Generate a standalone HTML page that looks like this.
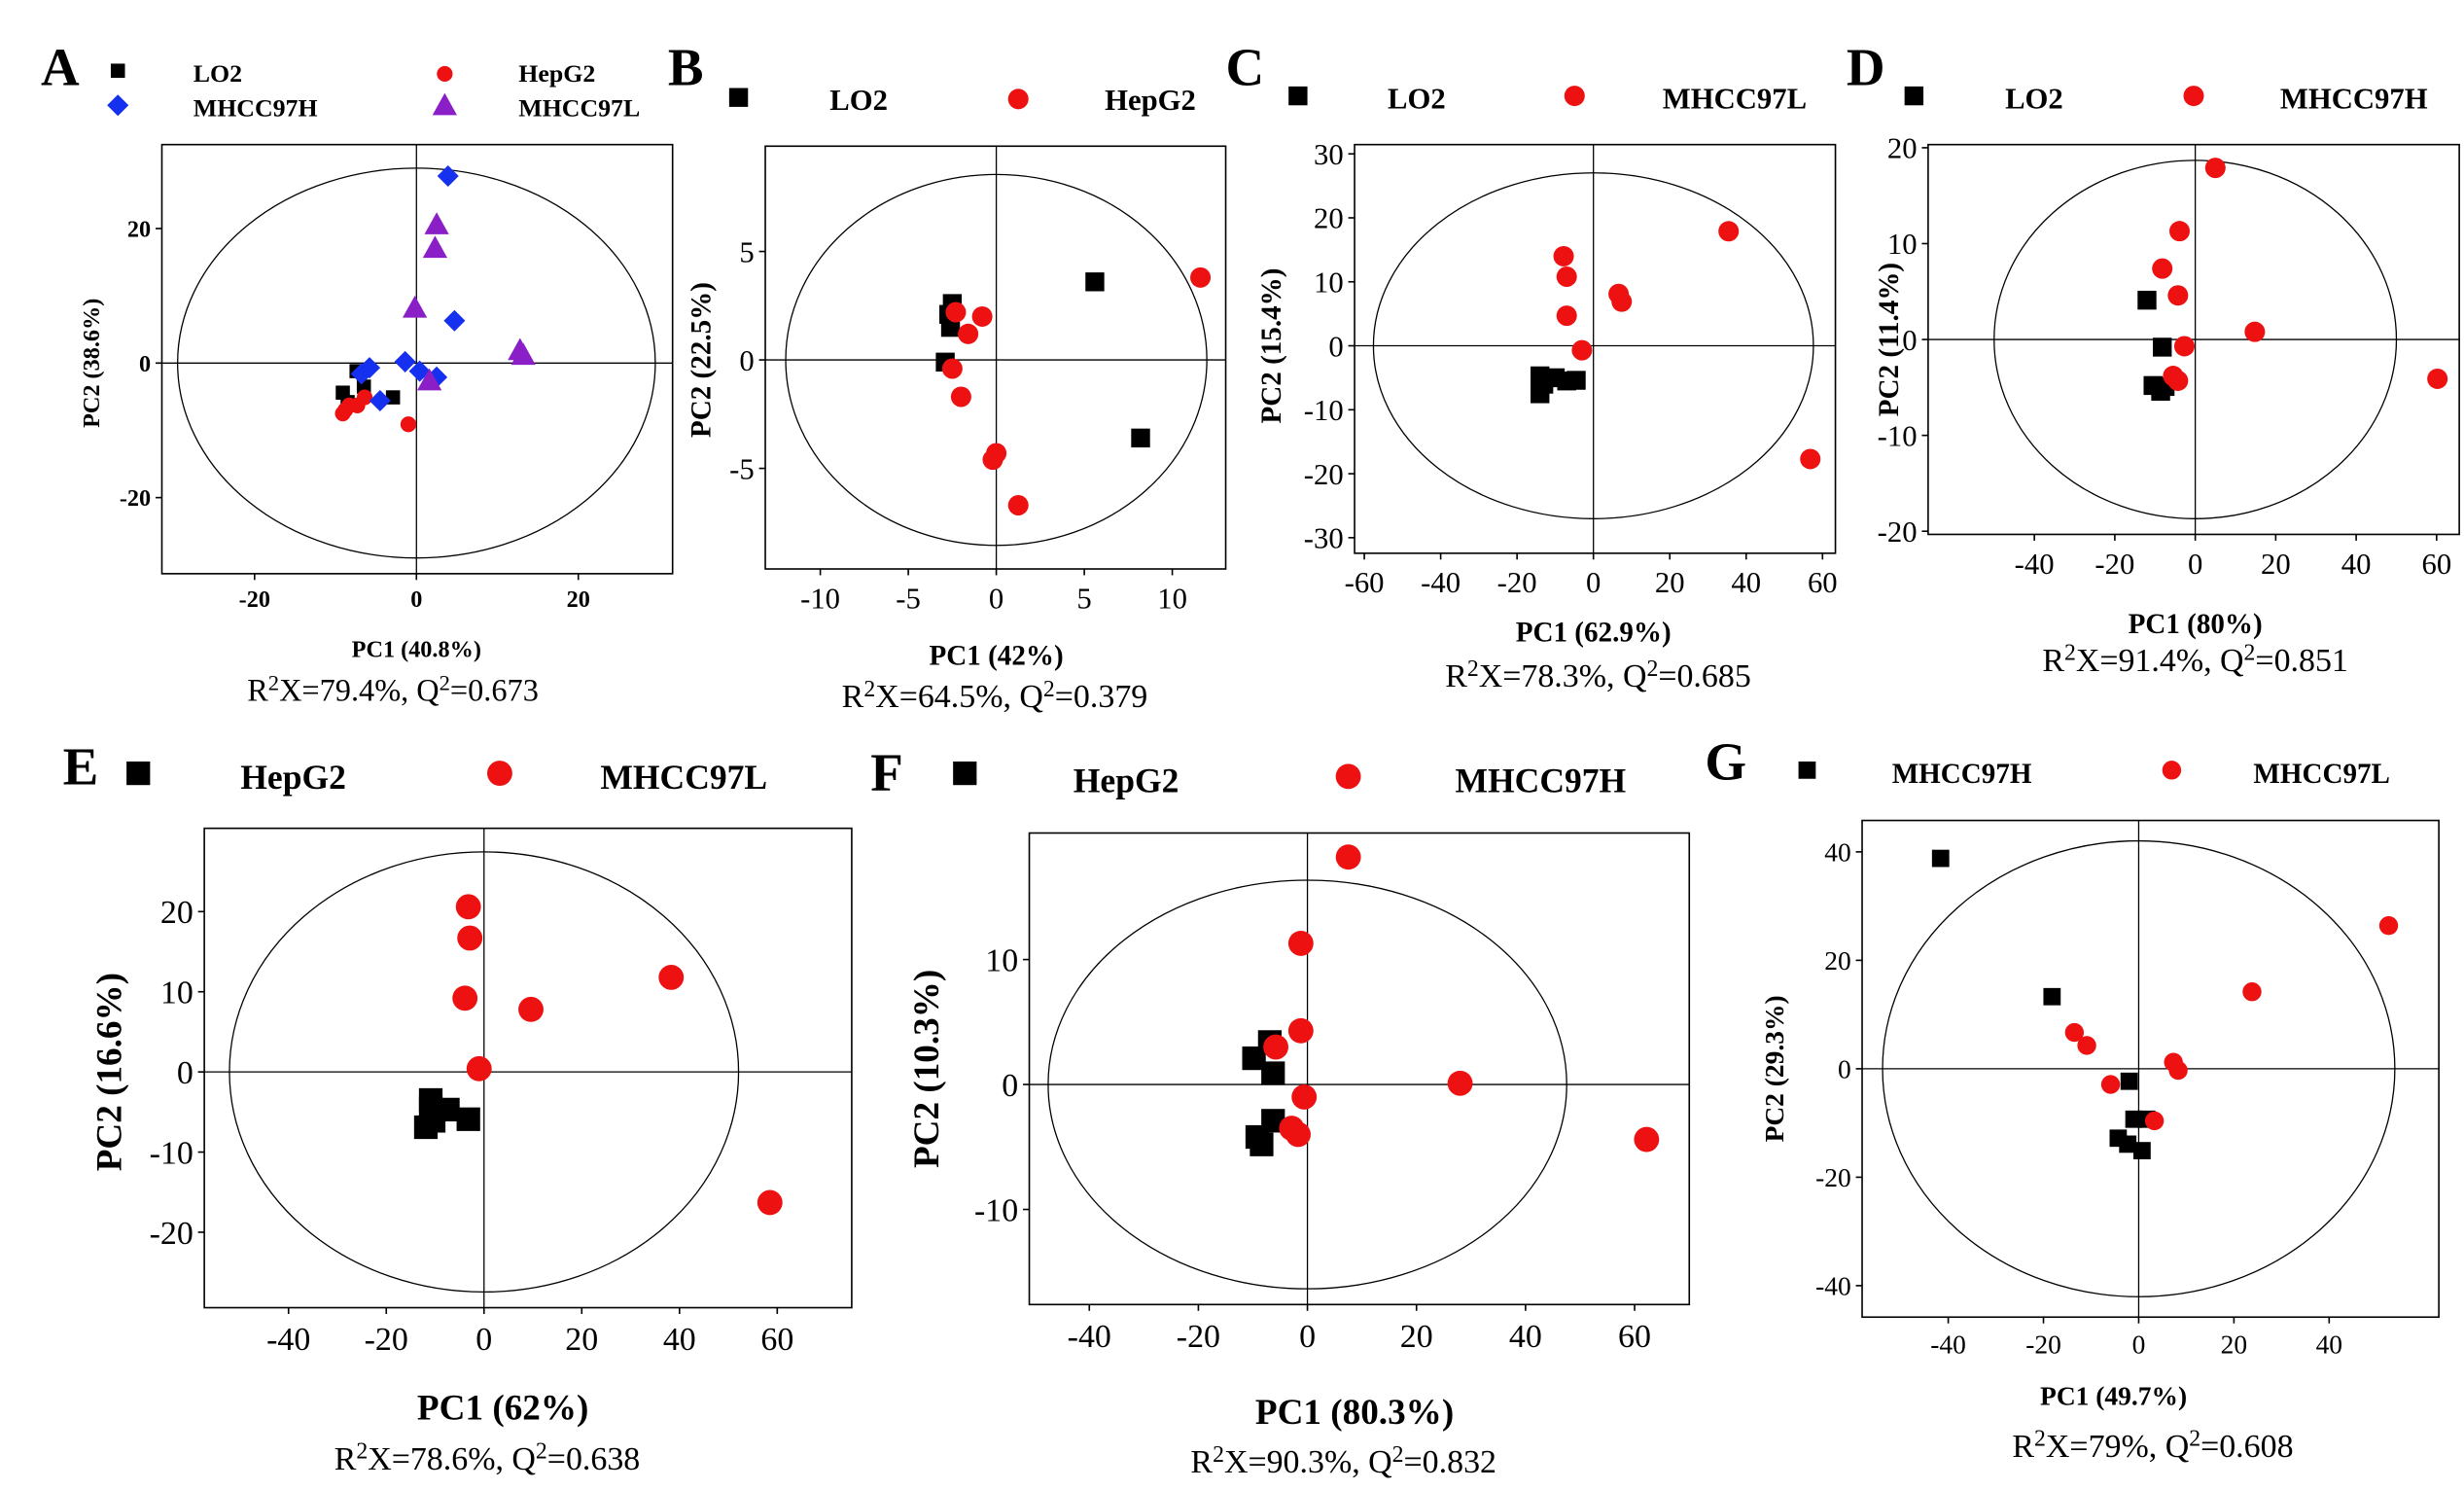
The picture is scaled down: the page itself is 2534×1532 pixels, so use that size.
<!DOCTYPE html>
<html><head><meta charset="utf-8"><style>
html,body{margin:0;padding:0;background:#fff}
svg{display:block}
text{font-family:"Liberation Serif",serif;fill:#000}
</style></head><body>
<svg id="fig" width="2534" height="1532" viewBox="0 0 1568 948" xmlns="http://www.w3.org/2000/svg"></svg>
<script>
// ---- data (PC1, PC2 scores) ----
const A_LO2=[[-9.1,-4.4],[-7.4,-1.2],[-2.9,-5.1],[-8.5,-5.8],[-6.5,-3.5]];
const A_HepG2=[[-9.1,-7.5],[-8.3,-6.3],[-6.4,-5.1],[-7.3,-6.3],[-1,-9.1],[-8.8,-7]];
const A_97H=[[3.9,27.8],[4.7,6.3],[2.5,-2.1],[0.4,-1.2],[-1.4,0.2],[-5.8,-0.7],[-6.8,-1.6],[-4.5,-5.6]];
const A_97L=[[2.5,20.6],[2.3,17.1],[-0.2,8.2],[12.8,1.9],[13.2,1.2],[1.6,-2.6]];
const B_LO2=[[-2.5,2.6],[-2.7,2.1],[-2.6,1.5],[-2.9,-0.1],[5.6,3.6],[8.2,-3.6]];
const B_HepG2=[[11.6,3.8],[-2.3,2.2],[-0.8,2.0],[-1.6,1.2],[-2.5,-0.4],[-2,-1.7],[0,-4.3],[-0.2,-4.6],[1.25,-6.7]];
const C_LO2=[[-14,-4.7],[-13,-6],[-14,-7.5],[-7,-5.5],[-4.5,-5.4],[-10,-5]];
const C_97L=[[-7.8,14],[-7,10.8],[-7,4.7],[-3,-0.7],[6.6,8.1],[7.4,6.9],[35.4,17.9],[56.8,-17.7]];
const D_LO2=[[-12,4.1],[-8.2,-0.8],[-10.5,-4.8],[-8.6,-5.4],[-7.5,-4.9]];
const D_97H=[[5,17.9],[-3.9,11.3],[-8.2,7.4],[-4.3,4.6],[-2.7,-0.7],[-5.5,-3.8],[-4.3,-4.3],[14.8,0.8],[60.2,-4.1]];
const E_HepG2=[[-10.9,-3.5],[-11.9,-6.9],[-7.4,-4.7],[-3.2,-5.9],[-10.3,-6.1],[-10.9,-4.5]];
const E_97L=[[-3.2,20.6],[-2.9,16.7],[-3.9,9.2],[-1,0.4],[9.6,7.8],[38.3,11.8],[58.5,-16.3]];
const F_HepG2=[[-9.8,2.1],[-6.9,3.4],[-6.3,0.9],[-9.2,-4.2],[-8.4,-4.8],[-6.3,-2.9]];
const F_97H=[[7.5,18.2],[-1.2,11.3],[-1.2,4.3],[-0.6,-1],[-5.8,3],[-2.9,-3.5],[-1.7,-4],[28,0.1],[62.2,-4.4]];
const G_97H=[[-41.6,38.8],[-18.2,13.3],[-2,-2.3],[-4.3,-12.8],[-2.3,-13.9],[0.7,-15.1],[-1,-9.3],[1.7,-9.3]];
const G_97L=[[-13.5,6.7],[-10.9,4.3],[-5.9,-2.9],[3.3,-9.6],[7.3,1.2],[8.3,-0.3],[23.8,14.2],[52.5,26.4]];
const A_xt=[-20,0,20], A_yt=[20,0,-20];
const B_xt=[-10,-5,0,5,10], B_yt=[5,0,-5];
const C_xt=[-60,-40,-20,0,20,40,60], C_yt=[30,20,10,0,-10,-20,-30];
const D_xt=[-40,-20,0,20,40,60], D_yt=[20,10,0,-10,-20];
const E_xt=[-40,-20,0,20,40,60], E_yt=[20,10,0,-10,-20];
const F_xt=[-40,-20,0,20,40,60], F_yt=[10,0,-10];
const G_xt=[-40,-20,0,20,40], G_yt=[40,20,0,-20,-40];

const NS='http://www.w3.org/2000/svg';
const svg=document.getElementById('fig');
function el(tag,attrs,parent,txt){const e=document.createElementNS(NS,tag);for(const k in attrs)e.setAttribute(k,attrs[k]);if(txt!==undefined)e.textContent=txt;(parent||svg).appendChild(e);return e;}
function marker(g,shape,x,y,s,color){let e;
 if(shape==='sq'){e=el('rect',{x:x-s/2,y:y-s/2,width:s,height:s,fill:color},g);}
 else if(shape==='ci'){e=el('circle',{cx:x,cy:y,r:s/2,fill:color},g);}
 else if(shape==='di'){const h=s*0.62;e=el('polygon',{points:`${x},${y-h} ${x+h},${y} ${x},${y+h} ${x-h},${y}`,fill:color},g);}
 else {const h=s*0.6;e=el('polygon',{points:`${x},${y-h} ${x+h},${y+h*0.8} ${x-h},${y+h*0.8}`,fill:color},g);}
 return e;}

function panel(p){
 const g=el('g',{});
 
 
 const X=v=>p.x0+v*p.sx, Y=v=>p.y0-v*p.sy;
 const fr=el('rect',{x:p.fx1,y:p.fy1,width:p.fx2-p.fx1,height:p.fy2-p.fy1,fill:'none',stroke:'#000','stroke-width':1},g);
 
 el('line',{x1:p.fx1,x2:p.fx2,y1:p.y0,y2:p.y0,stroke:'#000','stroke-width':0.8},g);
 el('line',{x1:p.x0,x2:p.x0,y1:p.fy1,y2:p.fy2,stroke:'#000','stroke-width':0.8},g);
 const ell=el('ellipse',{cx:p.x0,cy:p.y0,rx:p.erx,ry:p.ery,fill:'none',stroke:'#000','stroke-width':0.8},g);
 
 p.xt.forEach(v=>{const x=X(v);el('line',{x1:x,x2:x,y1:p.fy2,y2:p.fy2+4,stroke:'#000'},g);
  const t=el('text',{x:x,y:p.fy2+p.tf+6,'text-anchor':'middle','font-size':p.tf,'font-weight':p.tb?'bold':'normal'},g,String(v));
  });
 p.yt.forEach(v=>{const y=Y(v);el('line',{x1:p.fx1-4,x2:p.fx1,y1:y,y2:y,stroke:'#000'},g);
  const t=el('text',{x:p.fx1-7,y:y+p.tf*0.35,'text-anchor':'end','font-size':p.tf,'font-weight':p.tb?'bold':'normal'},g,String(v));
  });
 const xt=el('text',{x:p.xtx,y:p.xty,'text-anchor':'middle','font-size':p.af,'font-weight':'bold'},g,p.xlab);
 
 const yt=el('text',{x:0,y:0,transform:`translate(${p.ytx},${p.yty}) rotate(-90)`,'text-anchor':'middle','font-size':p.af,'font-weight':'bold'},g,p.ylab);
 
 const st=el('text',{x:p.rx,y:p.ry,'text-anchor':'middle','font-size':p.rf},g);
 
 st.innerHTML=p.stat;
 const lt=el('text',{x:p.lx,y:p.ly,'font-size':p.lf,'font-weight':'bold'},g,p.id);
 
 p.series.forEach(s=>{
  const sg=el('g',{},g);
  
  s.data.forEach(d=>{const m=marker(sg,s.shape,X(d[0]),Y(d[1]),s.size,s.color);
   });
  const lg=el('g',{},g);
  
  marker(lg,s.shape,s.mx,s.my,s.ls||s.size,s.color);
  el('text',{x:s.tx,y:s.ty,'font-size':s.tf,'font-weight':'bold'},lg,s.name);
 });
}
const R=(a,b)=>`R<tspan font-size="0.7em" dy="-7">2</tspan><tspan dy="7">X=${a}, Q</tspan><tspan font-size="0.7em" dy="-7">2</tspan><tspan dy="7">=${b}</tspan>`;
const K='#000',RD='#ee1111';
panel({id:'A',x0:265,y0:231,sx:5.15,sy:4.28,fx1:103,fx2:428,fy1:92,fy2:365,erx:152,ery:124,xt:A_xt,yt:A_yt,tf:15,tb:true,
 xlab:'PC1 (40.8%)',xtx:265,xty:418,ylab:'PC2 (38.6%)',ytx:63,yty:231,af:15,rx:250,ry:446,rf:20,stat:R('79.4%','0.673'),lx:26,ly:54,lf:34,
 series:[{name:'LO2',data:A_LO2,shape:'sq',size:9,color:K,mx:75,my:45,tx:123,ty:52,tf:16},
 {name:'HepG2',data:A_HepG2,shape:'ci',size:10,color:RD,mx:283,my:47,tx:330,ty:52,tf:16},
 {name:'MHCC97H',data:A_97H,shape:'di',size:11,color:'#1530ee',mx:75,my:67,tx:123,ty:74,tf:16},
 {name:'MHCC97L',data:A_97L,shape:'tr',size:13,color:'#8a1fc8',mx:283,my:67,tx:330,ty:74,tf:16}]});
panel({id:'B',x0:634,y0:229,sx:11.2,sy:13.8,fx1:487,fx2:780,fy1:93,fy2:362,erx:134,ery:118,xt:B_xt,yt:B_yt,tf:19,tb:false,
 xlab:'PC1 (42%)',xtx:634,xty:423,ylab:'PC2 (22.5%)',ytx:452,yty:229,af:18,rx:633,ry:450,rf:21,stat:R('64.5%','0.379'),lx:425,ly:54,lf:34,
 series:[{name:'LO2',data:B_LO2,shape:'sq',size:12,color:K,mx:470,my:62,tx:528,ty:70,tf:19},
 {name:'HepG2',data:B_HepG2,shape:'ci',size:13,color:RD,mx:648,my:63,tx:703,ty:70,tf:19}]});
panel({id:'C',x0:1014,y0:220,sx:2.43,sy:4.07,fx1:862,fx2:1168,fy1:92,fy2:352,erx:140,ery:110,xt:C_xt,yt:C_yt,tf:19,tb:false,
 xlab:'PC1 (62.9%)',xtx:1014,xty:408,ylab:'PC2 (15.4%)',ytx:815,yty:220,af:18,rx:1017,ry:437,rf:21,stat:R('78.3%','0.685'),lx:780,ly:54,lf:34,
 series:[{name:'LO2',data:C_LO2,shape:'sq',size:12,color:K,mx:826,my:61,tx:883,ty:69,tf:19},
 {name:'MHCC97L',data:C_97L,shape:'ci',size:13,color:RD,mx:1002,my:61,tx:1058,ty:69,tf:19}]});
panel({id:'D',x0:1397,y0:216,sx:2.56,sy:6.1,fx1:1227,fx2:1565,fy1:92,fy2:340,erx:128,ery:114,xt:D_xt,yt:D_yt,tf:19,tb:false,
 xlab:'PC1 (80%)',xtx:1397,xty:403,ylab:'PC2 (11.4%)',ytx:1208,yty:216,af:18,rx:1397,ry:427,rf:21,stat:R('91.4%','0.851'),lx:1175,ly:54,lf:34,
 series:[{name:'LO2',data:D_LO2,shape:'sq',size:12,color:K,mx:1218,my:61,tx:1276,ty:69,tf:19},
 {name:'MHCC97H',data:D_97H,shape:'ci',size:13,color:RD,mx:1396,my:61,tx:1451,ty:69,tf:19}]});
panel({id:'E',x0:308,y0:682,sx:3.11,sy:5.1,fx1:130,fx2:542,fy1:527,fy2:832,erx:162,ery:140,xt:E_xt,yt:E_yt,tf:21,tb:false,
 xlab:'PC1 (62%)',xtx:320,xty:903,ylab:'PC2 (16.6%)',ytx:77,yty:682,af:23,rx:310,ry:935,rf:21,stat:R('78.6%','0.638'),lx:40,ly:499,lf:34,
 series:[{name:'HepG2',data:E_HepG2,shape:'sq',size:15,color:K,mx:88,my:492,tx:153,ty:502,tf:22},
 {name:'MHCC97L',data:E_97L,shape:'ci',size:16,color:RD,mx:318,my:492,tx:382,ty:502,tf:22}]});
panel({id:'F',x0:832,y0:690,sx:3.47,sy:7.95,fx1:655,fx2:1075,fy1:530,fy2:830,erx:165,ery:130,xt:F_xt,yt:F_yt,tf:21,tb:false,
 xlab:'PC1 (80.3%)',xtx:862,xty:906,ylab:'PC2 (10.3%)',ytx:597,yty:680,af:23,rx:855,ry:937,rf:21,stat:R('90.3%','0.832'),lx:554,ly:503,lf:34,
 series:[{name:'HepG2',data:F_HepG2,shape:'sq',size:15,color:K,mx:614,my:492,tx:683,ty:504,tf:22},
 {name:'MHCC97H',data:F_97H,shape:'ci',size:16,color:RD,mx:858,my:494,tx:926,ty:504,tf:22}]});
panel({id:'G',x0:1361,y0:680,sx:3.03,sy:3.45,fx1:1185,fx2:1552,fy1:522,fy2:838,erx:163,ery:145,xt:G_xt,yt:G_yt,tf:17,tb:false,
 xlab:'PC1 (49.7%)',xtx:1345,xty:894,ylab:'PC2 (29.3%)',ytx:1135,yty:680,af:17,rx:1370,ry:927,rf:21,stat:R('79%','0.608'),lx:1085,ly:496,lf:34,
 series:[{name:'MHCC97H',data:G_97H,shape:'sq',size:11,color:K,mx:1150,my:490,tx:1204,ty:498,tf:18},
 {name:'MHCC97L',data:G_97L,shape:'ci',size:12,color:RD,mx:1382,my:490,tx:1434,ty:498,tf:18}]});
</script>
</body></html>
